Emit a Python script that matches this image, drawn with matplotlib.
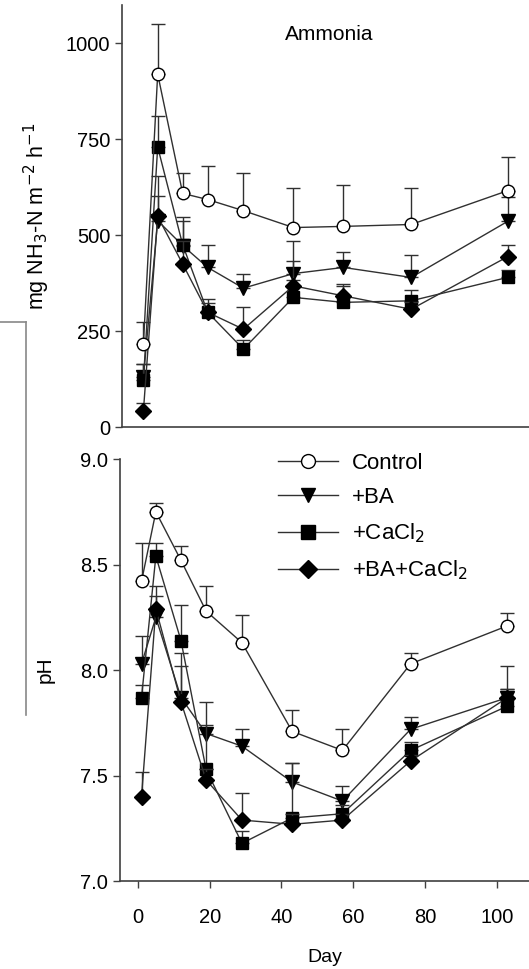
import matplotlib.pyplot as plt
from matplotlib.lines import Line2D
import numpy as np

plt.rcParams['font.family'] = ['Liberation Sans', 'DejaVu Sans']

# Sampling days
days = [1, 5, 12, 19, 29, 43, 57, 76, 103]
labels = ["Control", "+BA", "+CaCl$_2$", "+BA+CaCl$_2$"]

# Ammonia flux (mg NH3-N m-2 h-1), mean and upper error
nh3_control = [216, 920, 609, 593, 564, 520, 523, 528, 616]
nh3_control_err = [59, 130, 54, 87, 97, 103, 107, 95, 87]
nh3_ba = [130, 538, 473, 416, 362, 400, 416, 390, 536]
nh3_ba_err = [35, 116, 74, 59, 38, 84, 40, 58, 63]
nh3_ca = [122, 730, 475, 299, 203, 338, 325, 329, 390]
nh3_ca_err = [43, 82, 63, 35, 25, 45, 43, 28, 20]
nh3_baca = [42, 549, 425, 299, 255, 368, 342, 307, 444]
nh3_baca_err = [20, 52, 60, 25, 59, 66, 30, 20, 30]

# pH, mean and upper error
ph_control = [8.42, 8.75, 8.52, 8.28, 8.13, 7.71, 7.62, 8.03, 8.21]
ph_control_err = [0.18, 0.04, 0.07, 0.12, 0.13, 0.10, 0.10, 0.05, 0.06]
ph_ba = [8.03, 8.25, 7.87, 7.70, 7.64, 7.47, 7.38, 7.72, 7.87]
ph_ba_err = [0.13, 0.10, 0.15, 0.04, 0.08, 0.09, 0.07, 0.06, 0.04]
ph_ca = [7.87, 8.54, 8.14, 7.53, 7.18, 7.30, 7.32, 7.62, 7.83]
ph_ca_err = [0.06, 0.06, 0.17, 0.32, 0.06, 0.26, 0.04, 0.04, 0.19]
ph_baca = [7.40, 8.29, 7.85, 7.48, 7.29, 7.27, 7.29, 7.57, 7.87]
ph_baca_err = [0.12, 0.11, 0.23, 0.05, 0.13, 0.05, 0.03, 0.03, 0.04]

styles = [
    dict(marker='o', mfc='white', ms=9, zorder=6),
    dict(marker='v', mfc='black', ms=9.5, zorder=3),
    dict(marker='s', mfc='black', ms=8.5, zorder=4),
    dict(marker='D', mfc='black', ms=8.5, zorder=5),
]
line_col = '#303030'

fig = plt.figure(figsize=(5.29, 9.69), dpi=100)
ax1 = fig.add_axes([0.2306, 0.5593, 0.7694, 0.4355])
ax2 = fig.add_axes([0.2268, 0.0905, 0.7732, 0.4358])

def draw(ax, series, errs):
    for y, e, st in zip(series, errs, styles):
        ax.errorbar(days, y, yerr=[np.zeros(len(e)), e], color=line_col,
                    lw=1.0, elinewidth=1.0, capsize=5, capthick=1.0,
                    mec='black', mew=1.0, **st)

draw(ax1, [nh3_control, nh3_ba, nh3_ca, nh3_baca],
     [nh3_control_err, nh3_ba_err, nh3_ca_err, nh3_baca_err])
draw(ax2, [ph_control, ph_ba, ph_ca, ph_baca],
     [ph_control_err, ph_ba_err, ph_ca_err, ph_baca_err])

for ax in (ax1, ax2):
    ax.set_xlim(-5, 109)
    for s in ('top', 'right'):
        ax.spines[s].set_visible(False)
    for s in ('left', 'bottom'):
        ax.spines[s].set_color('#404040')
        ax.spines[s].set_linewidth(1.2)
    ax.tick_params(direction='out', length=5, width=1, color='#404040',
                   labelsize=14.5)

ax1.set_ylim(0, 1100)
ax1.set_yticks([0, 250, 500, 750, 1000])
ax1.set_xticks([])
ax1.set_ylabel("mg NH$_3$-N m$^{\\mathsf{-2}}$ h$^{\\mathsf{-1}}$", fontsize=15.5,
               labelpad=10)
ax1.text(0.51, 0.93, "Ammonia", transform=ax1.transAxes, fontsize=15,
         ha='center', va='center')

ax2.set_ylim(7.0, 9.0)
ax2.set_yticks([7.0, 7.5, 8.0, 8.5, 9.0])
ax2.set_yticklabels(["7.0", "7.5", "8.0", "8.5", "9.0"])
ax2.set_xticks([0, 20, 40, 60, 80, 100])
ax2.tick_params(axis='x', pad=14)
ax2.set_ylabel("pH", fontsize=15, labelpad=18)
ax2.set_xlabel("Day", fontsize=14, labelpad=16)

handles = [Line2D([], [], color=line_col, lw=1.0, mec='black', mew=1.0,
                  marker=st['marker'], mfc=st['mfc'], ms=st['ms'] + 1)
           for st in styles]
ax2.legend(handles, labels, loc='upper left', bbox_to_anchor=(0.338, 1.062),
           frameon=False, fontsize=16, handlelength=2.7, labelspacing=0.6,
           handletextpad=0.6)

# fragment of a neighbouring panel at the left edge
fig.add_artist(Line2D([0, 26 / 529], [1 - 322 / 969] * 2, color='#888888', lw=1.2,
                      transform=fig.transFigure))
fig.add_artist(Line2D([26 / 529] * 2, [1 - 322 / 969, 1 - 715 / 969],
                      color='#888888', lw=1.2, transform=fig.transFigure))

fig.savefig("out.png", dpi=100)
